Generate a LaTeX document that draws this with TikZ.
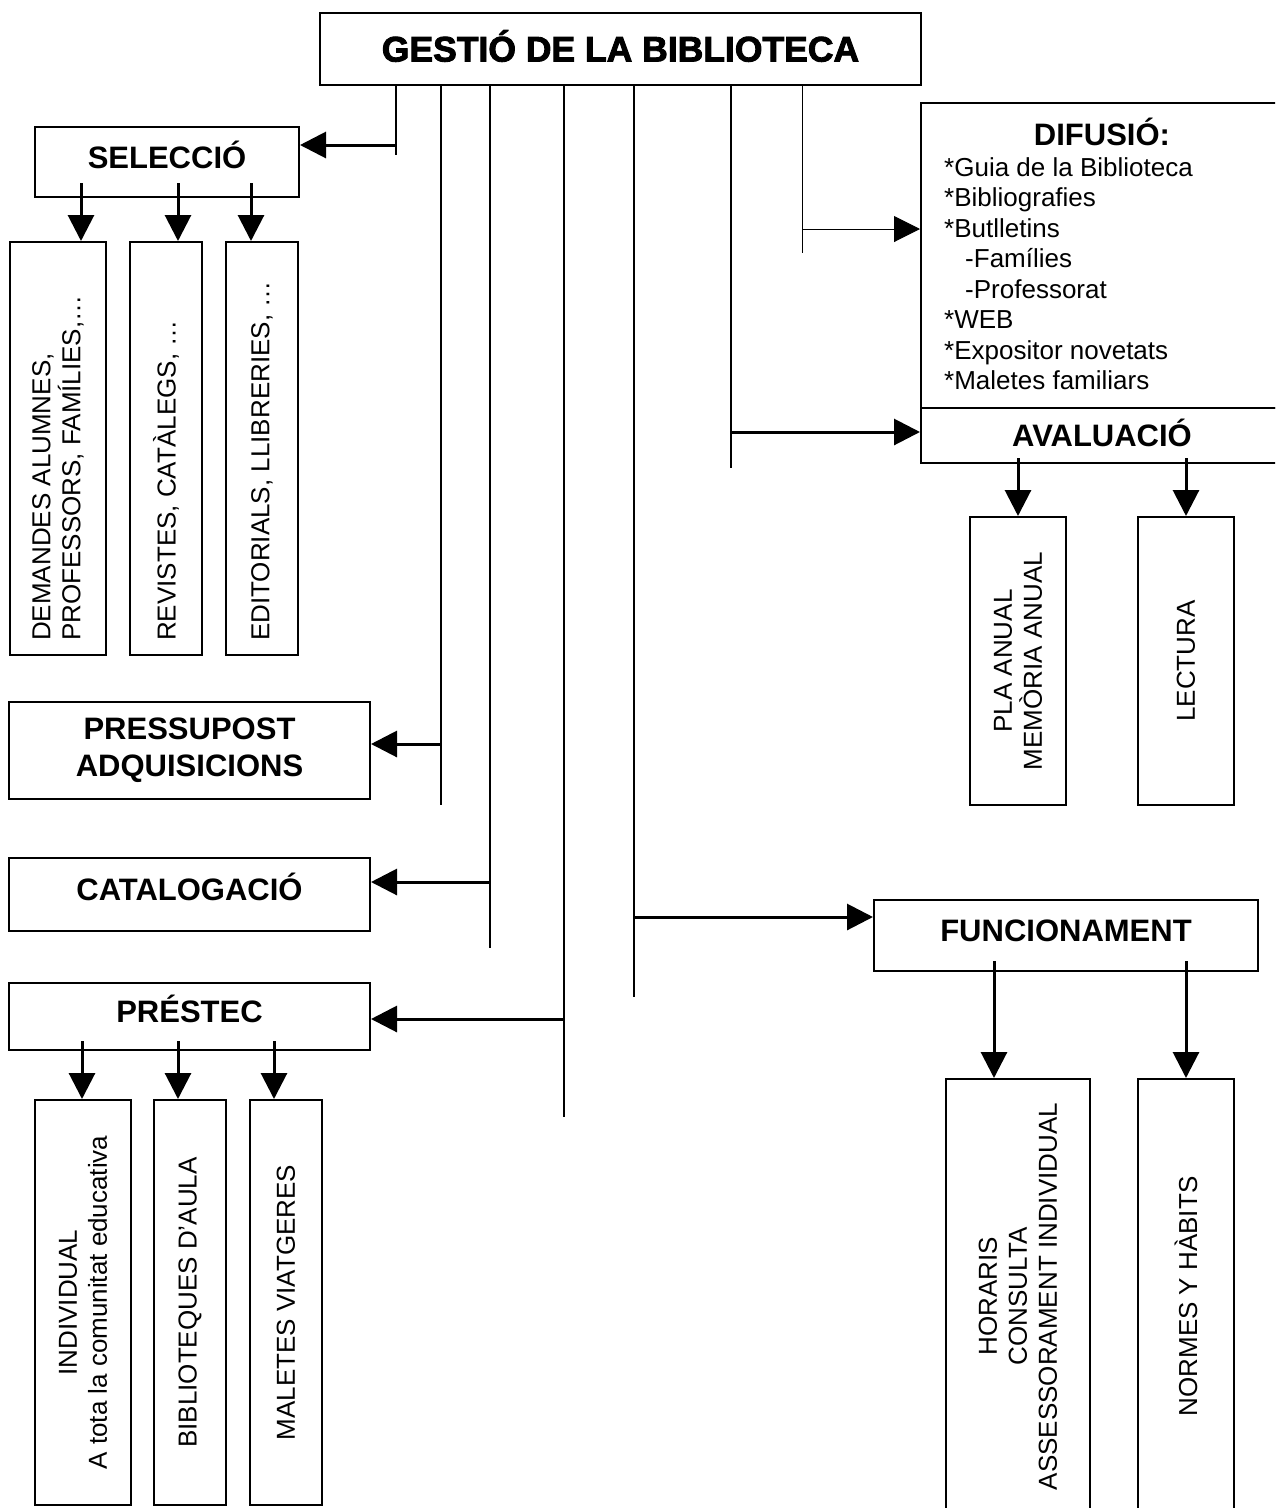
\documentclass[tikz,border=0pt]{standalone}
\usepackage{fontspec}
\setmainfont{Liberation Sans}
\newfontfamily\titolfont{Liberation Sans Bold}[FakeBold=2.5]
\usetikzlibrary{arrows.meta}

\tikzset{
  caixa/.style={draw, line width=2pt, inner sep=0pt, align=center, font=\fontsize{31}{37}\selectfont\bfseries},
  una/.style={text height=22pt, text depth=10pt},
  vtext/.style={rotate=90, inner sep=0pt, align=center, font=\fontsize{26}{30}\selectfont},
  tronc/.style={line width=2pt},
  fletxa/.style={line width=3pt, -{Triangle[length=26pt,width=26pt]}},
}

\begin{document}
\begin{tikzpicture}[x=1pt, y=-1pt]
\useasboundingbox (0,0) rectangle (1275,1508);
\clip (0,0) rectangle (1275,1508);

% capcalera
\node[caixa, minimum width=601pt, minimum height=72pt, font=\fontsize{35.5}{40}\titolfont, text height=25pt, text depth=0pt] (titol) at (620.5,49) {GESTIÓ DE LA BIBLIOTECA};

% seleccio
\node[caixa, una, minimum width=264pt, minimum height=70pt] (seleccio) at (167,162) {SELECCIÓ};
\node[caixa, minimum width=96pt, minimum height=413pt] (demandes) at (58,448.5) {};
\node[caixa, minimum width=72pt, minimum height=413pt] (revistes) at (166,448.5) {};
\node[caixa, minimum width=72pt, minimum height=413pt] (editorials) at (262,448.5) {};
\node[vtext, anchor=west, align=left] (tdemandes) at ([yshift=15pt]demandes.south) {DEMANDES ALUMNES,\\PROFESSORS, FAMÍLIES,…};
\node[vtext, anchor=west] (trevistes) at ([yshift=15pt]revistes.south) {REVISTES, CATÀLEGS, …};
\node[vtext, anchor=west] (teditorials) at ([yshift=15pt]editorials.south) {EDITORIALS, LLIBRERIES, …};

% pressupost, catalogacio, prestec
\node[caixa, minimum width=361pt, minimum height=97pt] (pressupost) at (189.5,750.5) {PRESSUPOST\\ADQUISICIONS};
\node[caixa, una, minimum width=361pt, minimum height=73pt] (cataloga) at (189.5,894.5) {CATALOGACIÓ};
\node[caixa, una, minimum width=361pt, minimum height=67pt] (prestec) at (189.5,1016.5) {PRÉSTEC};
\node[caixa, minimum width=96pt, minimum height=405pt] (individual) at (83,1302.5) {};
\node[caixa, minimum width=72pt, minimum height=405pt] (biblioteques) at (190,1302.5) {};
\node[caixa, minimum width=72pt, minimum height=405pt] (maletes) at (286,1302.5) {};
\node[vtext] (tindividual) at (individual) {INDIVIDUAL\\A tota la comunitat educativa};
\node[vtext] (tbiblioteques) at (biblioteques) {BIBLIOTEQUES D’AULA};
\node[vtext] (tmaletes) at (maletes) {MALETES VIATGERES};

% difusio i avaluacio
\node[caixa, minimum width=362pt, minimum height=305pt] (difusio) at (1102,255.5) {};
\node[inner sep=0pt, font=\fontsize{31}{37}\selectfont\bfseries, text height=22pt, text depth=0pt] (tdifusio) at (1102,134) {DIFUSIÓ:};
\node[anchor=north west, inner sep=0pt, align=left, font=\fontsize{26}{30.5}\selectfont] (llista) at (944,157)
  {*Guia de la Biblioteca\\*Bibliografies\\*Butlletins\\\hspace*{21pt}-Famílies\\\hspace*{21pt}-Professorat\\*WEB\\*Expositor novetats\\*Maletes familiars};
\node[caixa, minimum width=362pt, minimum height=55pt, text height=22pt, text depth=0pt] (avaluacio) at (1102,435.5) {AVALUACIÓ};
\node[caixa, minimum width=96pt, minimum height=288pt] (pla) at (1018,661) {};
\node[caixa, minimum width=96pt, minimum height=288pt] (lectura) at (1186,661) {};
\node[vtext] (tpla) at (pla) {PLA ANUAL\\MEMÒRIA ANUAL};
\node[vtext] (tlectura) at (lectura) {LECTURA};

% funcionament
\node[caixa, una, minimum width=384pt, minimum height=71pt] (funcionament) at (1066,935.5) {FUNCIONAMENT};
\node[caixa, minimum width=144pt, minimum height=435pt] (horaris) at (1018,1296.5) {};
\node[caixa, minimum width=96pt, minimum height=435pt] (normes) at (1186,1296.5) {};
\node[vtext] (thoraris) at (horaris) {HORARIS\\CONSULTA\\ASSESSORAMENT INDIVIDUAL};
\node[vtext] (tnormes) at (normes) {NORMES Y HÀBITS};

% troncs cap a l'esquerra
\foreach \x/\ya/\yb/\dest in {396/145/155/seleccio, 441/744/805/pressupost, 490/882/948/cataloga, 564/1019/1117/prestec}{
  \coordinate (b-\dest) at (\x,\ya);
  \coordinate (f-\dest) at (\x,\yb);
  \draw[tronc] (titol.south -| f-\dest) -- (f-\dest);
  \draw[fletxa] (b-\dest) -- (\dest.east |- b-\dest);
}

% troncs cap a la dreta
\coordinate (b-funcionament) at (634,917);
\coordinate (f-funcionament) at (634,997);
\draw[tronc] (titol.south -| f-funcionament) -- (f-funcionament);
\draw[fletxa] (b-funcionament) -- (funcionament.west |- b-funcionament);
\coordinate (b-avaluacio) at (731,432);
\coordinate (f-avaluacio) at (731,468);
\draw[tronc] (titol.south -| f-avaluacio) -- (f-avaluacio);
\draw[fletxa] (b-avaluacio) -- (avaluacio.west |- b-avaluacio);
\coordinate (b-difusio) at (802,229);
\coordinate (f-difusio) at (802,253);
\draw[line width=1pt] (titol.south -| f-difusio) -- (f-difusio);
\draw[fletxa, line width=1pt] (b-difusio) -- (difusio.west |- b-difusio);

% fletxes cap als fills
\foreach \x/\dest in {81/demandes, 178/revistes, 251/editorials}
  \draw[fletxa] (seleccio.south -| \x,0) ++(0,-15) -- (\dest.north -| \x,0);
\foreach \x/\dest in {82/individual, 178/biblioteques, 274/maletes}
  \draw[fletxa] (prestec.south -| \x,0) ++(0,-10) -- (\dest.north -| \x,0);
\foreach \x/\dest in {1018/pla, 1186/lectura}
  \draw[fletxa] (avaluacio.south -| \x,0) ++(0,-6) -- (\dest.north -| \x,0);
\foreach \x/\dest in {994/horaris, 1186/normes}
  \draw[fletxa] (funcionament.south -| \x,0) ++(0,-11) -- (\dest.north -| \x,0);
\end{tikzpicture}
\end{document}
